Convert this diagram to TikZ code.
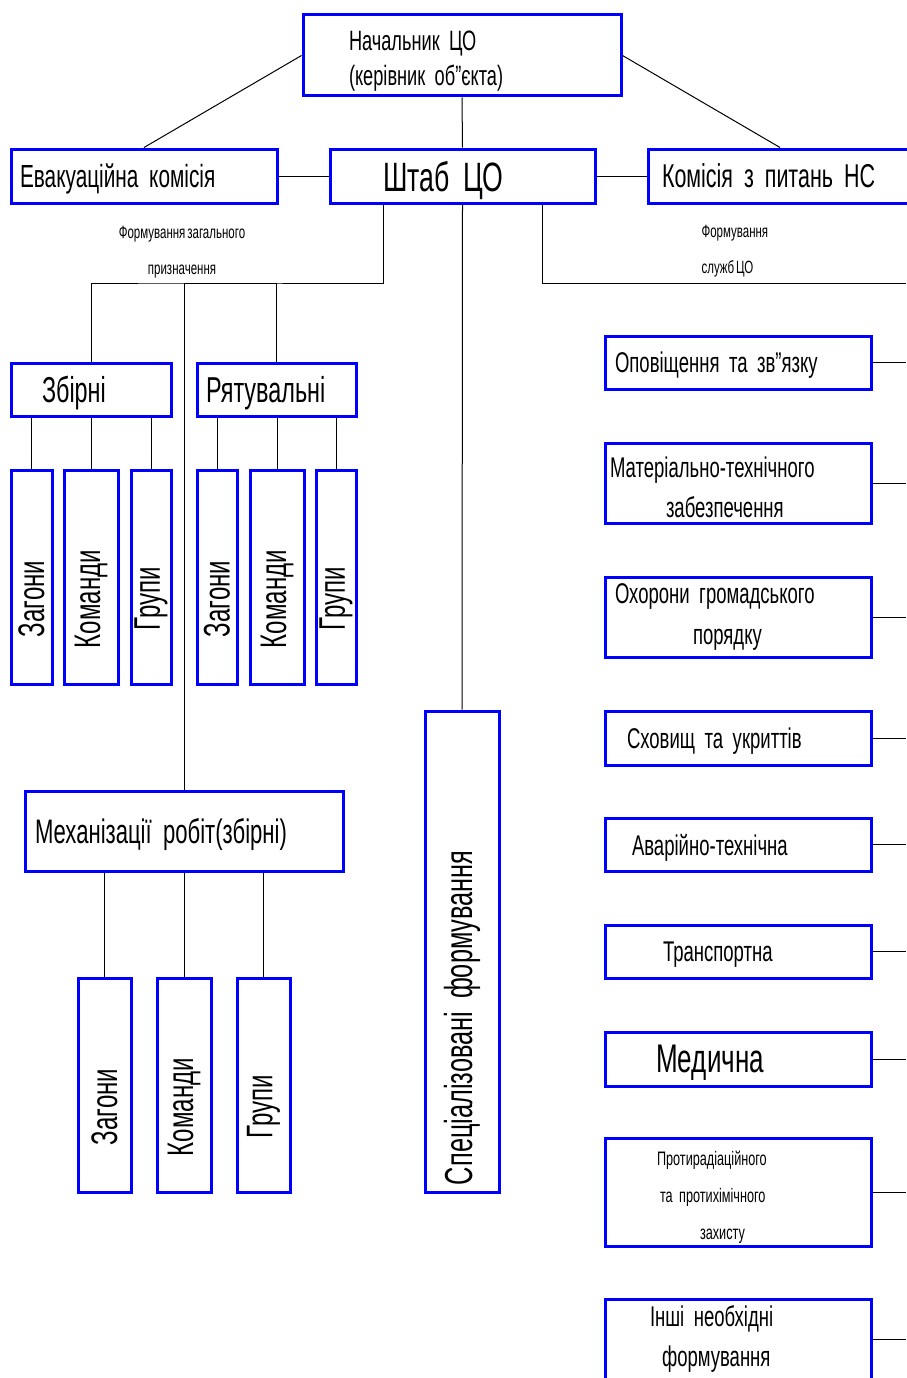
\documentclass[tikz,border=0pt]{standalone}
\usepackage{fontspec}
\setmainfont{Liberation Sans}[FakeStretch=0.65, WordSpace=0.6]

\begin{document}
\begin{tikzpicture}[
  x=1pt, y=-1pt,
  unitbox/.style={draw=blue, line width=3pt, inner ysep=0pt, inner xsep=0pt},
  padbox/.style={unitbox, align=left},
  flat/.style={text depth=0pt},
  vbox/.style={unitbox, rotate=90, minimum width=214pt,
    font=\fontsize{37}{40}\selectfont, execute at end node={\hspace*{44pt}}},
  link/.style={line width=1pt, black},
  smalllabel/.style={font=\fontsize{17.7}{36}\selectfont},
  svcfont/.style={font=\fontsize{28.5}{40.5}\selectfont},
]
\useasboundingbox (0,0) rectangle (906,1378);

% Top level
\node[padbox, minimum width=318pt, minimum height=81pt, inner xsep=46pt, text width=226pt,
      text depth=30pt, font=\fontsize{28}{35}\selectfont] (chief) at (462,55.5)
  {Начальник ЦО\\(керівник об"єкта)};
\node[padbox, flat, minimum width=266pt, minimum height=54pt, inner xsep=9pt, text width=248pt,
      font=\fontsize{32}{36}\selectfont] (evac) at (144,176) {Евакуаційна комісія};
\node[padbox, flat, minimum width=265pt, minimum height=54pt, inner xsep=53pt, text width=159pt,
      font=\fontsize{41}{44}\selectfont] (staff) at (462.5,176) {Штаб ЦО};
\node[padbox, flat, minimum width=264pt, minimum height=54pt, inner xsep=14pt, text width=236pt,
      font=\fontsize{33}{36}\selectfont] (comm) at (780,176) {Комісія з питань НС};

\draw[link] (chief.west) -- (evac.north);
\draw[link] (chief.east) -- (comm.north);
\draw[link] (chief.south) -- (staff.north);
\draw[link] (evac.east) -- (staff.west);
\draw[link] (staff.east) -- (comm.west);

% General purpose formations
\node[smalllabel, align=center] (genlabel) at (182,252) {Формування загального\\призначення};
\node[padbox, flat, minimum width=160pt, minimum height=53pt, inner xsep=31pt, text width=98pt,
      font=\fontsize{36}{40}\selectfont] (gather) at (91,389.5) {Збірні};
\node[padbox, flat, minimum width=159pt, minimum height=53pt, inner xsep=9pt, text width=141pt,
      font=\fontsize{36}{40}\selectfont] (rescue) at (276.5,389.5) {Рятувальні};

\node[vbox, minimum height=41pt] (zag1) at (31.5,577) {Загони};
\node[vbox, minimum height=54pt] (kom1) at (91,577) {Команди};
\node[vbox, minimum height=40pt] (gru1) at (151,577) {Групи};
\node[vbox, minimum height=40pt] (zag2) at (217,577) {Загони};
\node[vbox, minimum height=54pt] (kom2) at (277,577) {Команди};
\node[vbox, minimum height=40pt] (gru2) at (336,577) {Групи};

\node[padbox, flat, minimum width=318pt, minimum height=80pt, inner xsep=10pt, text width=298pt,
      font=\fontsize{34}{38}\selectfont] (mech) at (184,831) {Механізації робіт(збірні)};
\node[vbox, minimum height=53pt] (zag3) at (104.5,1085) {Загони};
\node[vbox, minimum height=54pt] (kom3) at (184,1085) {Команди};
\node[vbox, minimum height=53pt] (gru3) at (263.5,1085) {Групи};

\coordinate (genbus) at (184,283);
\draw[link] ([xshift=-79.5pt]staff.south) |- (genbus) -| (gather.north);
\draw[link] (genbus) -| (rescue.north);
\draw[link] (genbus) -- (mech.north);
\foreach \sub in {zag1,kom1,gru1}
  \draw[link] (gather.south -| \sub.east) -- (\sub.east);
\foreach \sub in {zag2,kom2,gru2}
  \draw[link] (rescue.south -| \sub.east) -- (\sub.east);
\foreach \sub in {zag3,kom3,gru3}
  \draw[link] (mech.south -| \sub.east) -- (\sub.east);

% Specialised formations
\node[unitbox, rotate=90, minimum width=481pt, minimum height=74pt, inner xsep=7pt,
      text width=467pt, align=left, font=\fontsize{39}{42}\selectfont] (spec) at (462,951.5)
  {Спеціалізовані формування};
\draw[link] (staff.south) -- (spec.east);

% Civil defence services
\node[smalllabel, align=left, anchor=west] (servlabel) at (698,251) {Формування\\служб ЦО};
\coordinate (servbus) at (906,283);
\draw[link] ([xshift=79.5pt]staff.south) |- (servbus);

\node[padbox, flat, svcfont, minimum width=266pt, minimum height=53pt, inner xsep=10pt, text width=246pt]
  (alert) at (738,362.5) {Оповіщення та зв"язку};
\node[padbox, svcfont, minimum width=266pt, minimum height=80pt, inner xsep=5pt, text width=256pt,
      text depth=32pt] (supply) at (738,483) {Матеріально-технічного\\\hspace*{56pt}забезпечення};
\node[padbox, svcfont, minimum width=266pt, minimum height=80pt, inner xsep=10pt, text width=246pt]
  (order) at (738,617) {Охорони громадського\\\hspace*{78pt}порядку};
\node[padbox, flat, svcfont, minimum width=266pt, minimum height=54pt, inner xsep=22pt, text width=222pt]
  (shelter) at (738,738) {Сховищ та укриттів};
\node[padbox, flat, svcfont, minimum width=266pt, minimum height=53pt, inner xsep=27pt, text width=212pt]
  (repair) at (738,844.5) {Аварійно-технічна};
\node[padbox, flat, svcfont, minimum width=266pt, minimum height=53pt, inner xsep=58pt, text width=150pt]
  (transport) at (738,951.5) {Транспортна};
\node[padbox, flat, minimum width=266pt, minimum height=54pt, inner xsep=51pt, text width=164pt,
      font=\fontsize{40}{44}\selectfont] (medic) at (738,1059) {Медична};
\node[padbox, minimum width=266pt, minimum height=108pt, inner xsep=52pt, text width=162pt,
      text depth=68pt, font=\fontsize{19.5}{37}\selectfont] (chem) at (738,1192)
  {Протирадіаційного\\\hspace*{3pt}та протихімічного\\\hspace*{43pt}захисту};
\node[padbox, svcfont, minimum width=266pt, minimum height=80pt, inner xsep=45pt, text width=176pt]
  (other) at (738,1339) {Інші необхідні\\\hspace*{12pt}формування};

\foreach \svc in {alert,supply,order,shelter,repair,transport,medic,chem,other}
  \draw[link] (\svc.east) -- (\svc.east -| servbus);

\end{tikzpicture}
\end{document}
